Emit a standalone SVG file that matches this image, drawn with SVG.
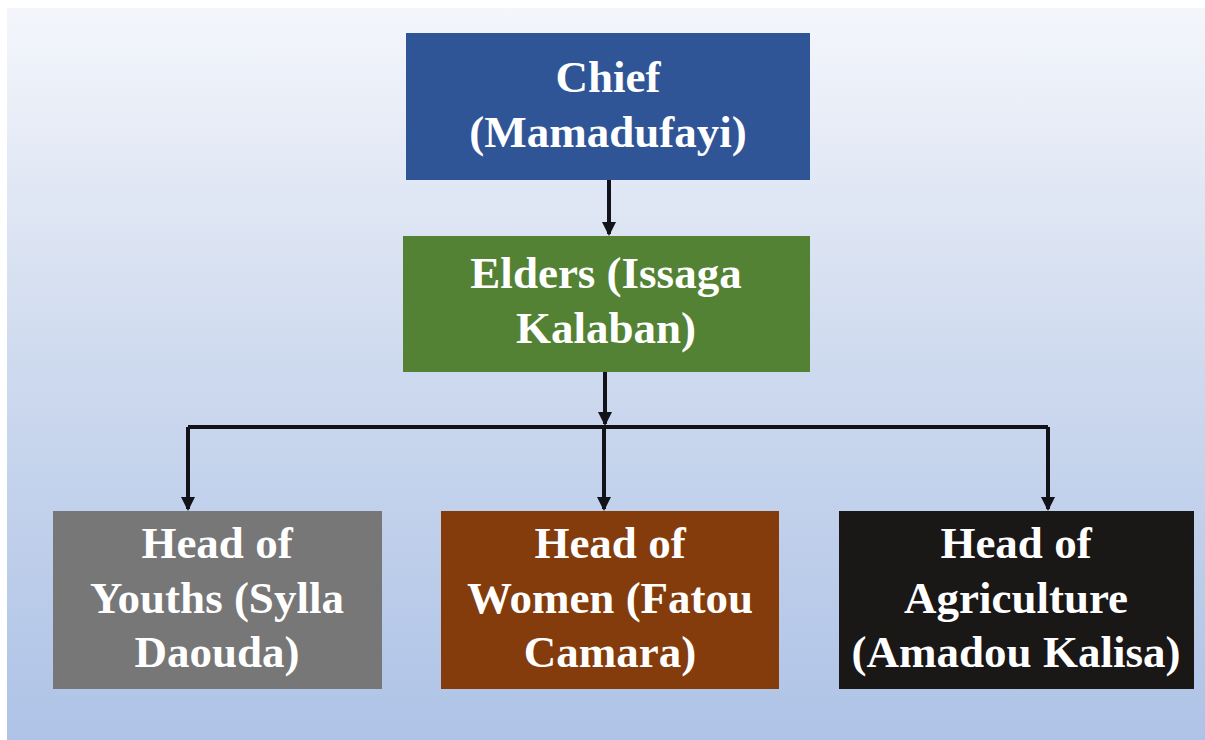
<svg xmlns="http://www.w3.org/2000/svg" width="1205" height="740" viewBox="0 0 1205 740">
  <defs>
    <linearGradient id="bg" x1="0" y1="0" x2="0" y2="1">
      <stop offset="0" stop-color="#f4f6fb"/>
      <stop offset="0.5" stop-color="#cdd9ee"/>
      <stop offset="1" stop-color="#aec3e7"/>
    </linearGradient>
    <marker id="arr" viewBox="0 0 14 14" refX="12" refY="7" markerWidth="14" markerHeight="14" markerUnits="userSpaceOnUse" orient="auto">
      <path d="M0,0 L14,7 L0,14 Z" fill="#111318"/>
    </marker>
    <style>
      .box { stroke: none; }
      .lbl { font-family: "Liberation Serif", "Times New Roman", serif; font-weight: bold; font-size: 45px; fill: #ffffff; text-anchor: middle; }
      .con { fill: none; stroke: #111318; stroke-width: 4; }
    </style>
  </defs>
  <rect x="0" y="0" width="1205" height="740" fill="#ffffff"/>
  <rect x="7" y="8" width="1198" height="732" fill="url(#bg)"/>

  <g id="connectors">
    <path class="con" d="M609,180 L609,234" marker-end="url(#arr)"/>
    <path class="con" d="M605,372 L605,424" marker-end="url(#arr)"/>
    <path class="con" d="M188,427 L1048,427"/>
    <path class="con" d="M188,427 L188,509" marker-end="url(#arr)"/>
    <path class="con" d="M604,427 L604,509" marker-end="url(#arr)"/>
    <path class="con" d="M1048,427 L1048,509" marker-end="url(#arr)"/>
  </g>

  <g id="chief">
    <rect class="box" x="406" y="33" width="404" height="147" fill="#2f5597"/>
    <text class="lbl" x="608" y="92">Chief</text>
    <text class="lbl" x="608" y="147">(Mamadufayi)</text>
  </g>
  <g id="elders">
    <rect class="box" x="403" y="236" width="407" height="136" fill="#548235"/>
    <text class="lbl" x="606" y="288">Elders (Issaga</text>
    <text class="lbl" x="606" y="343">Kalaban)</text>
  </g>
  <g id="youths">
    <rect class="box" x="53" y="511" width="329" height="178" fill="#777777"/>
    <text class="lbl" x="217" y="558">Head of</text>
    <text class="lbl" x="217" y="613">Youths (Sylla</text>
    <text class="lbl" x="217" y="667">Daouda)</text>
  </g>
  <g id="women">
    <rect class="box" x="441" y="511" width="338" height="178" fill="#843c0c"/>
    <text class="lbl" x="610" y="558">Head of</text>
    <text class="lbl" x="610" y="613">Women (Fatou</text>
    <text class="lbl" x="610" y="667">Camara)</text>
  </g>
  <g id="agriculture">
    <rect class="box" x="839" y="511" width="355" height="178" fill="#1a1717"/>
    <text class="lbl" x="1016" y="558">Head of</text>
    <text class="lbl" x="1016" y="613">Agriculture</text>
    <text class="lbl" x="1016" y="667">(Amadou Kalisa)</text>
  </g>
</svg>
